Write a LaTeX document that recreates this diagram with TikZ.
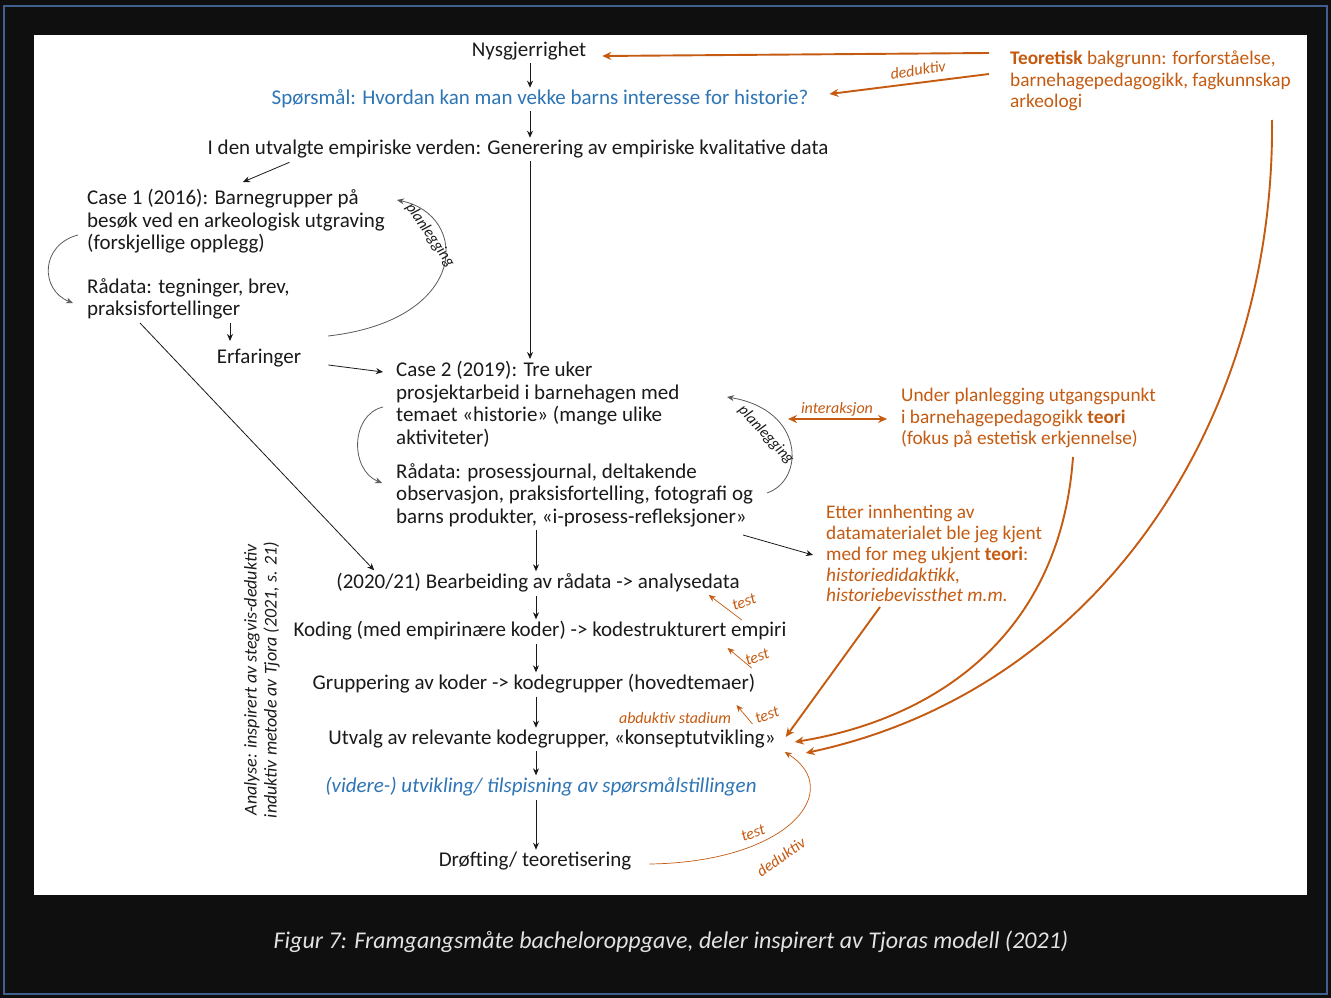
\documentclass[tikz,border=0pt]{standalone}
\usepackage{fontspec}
\setmainfont{Carlito}
\usetikzlibrary{arrows.meta,calc}
\definecolor{frame}{HTML}{0F0F0F}
\definecolor{rim}{HTML}{3F5F8F}
\definecolor{accent}{HTML}{C55A11}
\definecolor{qblue}{HTML}{2E75B6}
\definecolor{ink}{HTML}{1A1A1A}
\definecolor{loopgray}{HTML}{5A5A5A}
\definecolor{capgray}{HTML}{E2E2E2}
\newcommand\mainsize{\fontsize{21}{22.6}\selectfont}
\newcommand\sidesize{\fontsize{19.3}{21.5}\selectfont}
\newcommand\notesize{\fontsize{19.3}{20.8}\selectfont}
\newcommand\tagsize{\fontsize{16}{17}\selectfont}
\tikzset{
  lbl/.style={inner sep=0pt, font=\mainsize, text=ink},
  blk/.style={inner sep=0pt, font=\mainsize, text=ink, align=left, anchor=north west},
  org/.style={inner sep=0pt, font=\sidesize, text=accent, align=left, anchor=north west},
  tag/.style={inner sep=0pt, font=\tagsize\itshape, text=accent},
  looptag/.style={inner sep=0pt, font=\fontsize{15.5}{16}\selectfont\itshape, text=ink},
  flow/.style={draw=ink, line width=0.8pt, -{Stealth[length=7pt,width=6pt]}, shorten <=3pt, shorten >=2pt},
  thin/.style={draw=ink, line width=0.8pt, -{Stealth[length=7pt,width=6pt]}},
  loop/.style={draw=loopgray, line width=0.8pt, -{Stealth[length=7pt,width=6pt]}},
  feed/.style={draw=accent, line width=1.9pt, -{Stealth[length=9pt,width=8pt]}},
  probe/.style={draw=accent, line width=0.7pt, -{Stealth[length=7pt,width=6pt]}},
}
\begin{document}
\begin{tikzpicture}[x=1pt,y=-1pt]
% dark frame with white panel
\fill[frame] (0,0) rectangle (1331,998);
\draw[rim, line width=1.5pt] (4,6) rectangle (1327,994);
\fill[white] (34,35) rectangle (1307,895);
\useasboundingbox (0,0) rectangle (1331,998);

\coordinate (axis) at (530,0);
\coordinate (spine) at (536,0);

% upper part
\node[lbl] (nys) at (529,51) {Nysgjerrighet};
\node[lbl, text=qblue] (q) at (540,99) {Spørsmål: Hvordan kan man vekke barns interesse for historie?};
\node[lbl] (world) at (518,149) {I den utvalgte empiriske verden: Generering av empiriske kvalitative data};
\node[blk] (case1) at (87,189) {Case 1 (2016): Barnegrupper på\\besøk ved en arkeologisk utgraving\\(forskjellige opplegg)};
\node[blk] (raw1) at (87,278) {Rådata: tegninger, brev,\\praksisfortellinger};
\node[lbl] (erf) at (259,358) {Erfaringer};
\node[blk] (case2) at (396,361) {Case 2 (2019): Tre uker\\prosjektarbeid i barnehagen med\\temaet «historie» (mange ulike\\aktiviteter)};
\node[blk] (raw2) at (396,463) {Rådata: prosessjournal, deltakende\\observasjon, praksisfortelling, fotografi og\\barns produkter, «i-prosess-refleksjoner»};

% theory notes
\node[org] (teor) at (1010,51) {\textbf{Teoretisk} bakgrunn: forforståelse,\\barnehagepedagogikk, fagkunnskap\\arkeologi};
\node[org] (under) at (901,388) {Under planlegging utgangspunkt\\i barnehagepedagogikk \textbf{teori}\\(fokus på estetisk erkjennelse)};
\node[org, font=\notesize] (etter) at (826,505) {Etter innhenting av\\datamaterialet ble jeg kjent\\med for meg ukjent \textbf{teori}:\\\textit{historiedidaktikk,}\\\textit{historiebevissthet m.m.}};

% analysis steps
\node[lbl] (bear) at (538,583) {(2020/21) Bearbeiding av rådata -> analysedata};
\node[lbl] (kod) at (540,631) {Koding (med empirinære koder) -> kodestrukturert empiri};
\node[lbl] (grp) at (534,684) {Gruppering av koder -> kodegrupper (hovedtemaer)};
\node[lbl] (utv) at (552,739) {Utvalg av relevante kodegrupper, «konseptutvikling»};
\node[lbl, text=qblue, font=\mainsize\itshape] (vid) at (541,787) {(videre-) utvikling/ tilspisning av spørsmålstillingen};
\node[lbl] (dro) at (535,861) {Drøfting/ teoretisering};

\node[inner sep=0pt, rotate=90, align=center, text=ink, font=\fontsize{18}{20}\selectfont\itshape] (method) at (262,680) {Analyse: inspirert av stegvis-deduktiv\\induktiv metode av Tjora (2021, s. 21)};

% caption
\node[inner sep=0pt, text=capgray, font=\fontsize{24}{26}\selectfont\itshape] (cap) at (671,942) {Figur 7: Framgangsmåte bacheloroppgave, deler inspirert av Tjoras modell (2021)};

% main flow
\draw[flow] (nys.south -| axis) -- (q.north -| axis);
\draw[flow] (q.south -| axis) -- (world.north -| axis);
\draw[thin] ($(world.south west)+(82,4)$) -- ($(case1.north west)+(156,-7)$);
\draw[flow] (world.south -| axis) -- (case2.north -| axis);
\draw[loop] ($(case1.north west)+(-9,46)$) .. controls (40,245) and (40,290) .. ($(raw1.north west)+(-14,25)$);
\draw[thin] ($(raw1.north west)+(143,45)$) -- ($(raw1.north west)+(143,63)$);
\draw[loop] ($(erf.center)+(69,-22)$) .. controls (470,320) and (470,215) .. ($(case1.north west)+(310,11)$);
\draw[thin] ($(erf.east)+(27,7)$) -- ($(case2.north west)+(-13,11)$);
\draw[loop] ($(case2.north west)+(-13,46)$) .. controls (350,415) and (350,470) .. ($(raw2.north west)+(-14,20)$);
\draw[loop] ($(raw2.north west)+(371,30)$) .. controls (805,480) and (805,410) .. ($(case2.north west)+(331,36)$);
\draw[thin] ($(raw2.north west)+(347,72)$) -- ($(etter.north west)+(-13,50)$);
\draw[thin] ($(raw1.north west)+(53,45)$) -- ($(bear.north west)+(38,-3)$);
\draw[flow] (raw2.south -| spine) -- (bear.north -| spine);
\draw[flow] (bear.south -| spine) -- (kod.north -| spine);
\draw[flow] (kod.south -| spine) -- (grp.north -| spine);
\draw[flow] (grp.south -| spine) -- (utv.north -| spine);
\draw[flow] (utv.south -| spine) -- (vid.north -| spine);
\draw[flow] (vid.south -| spine) -- (dro.north -| spine);

\node[looptag, rotate=-55] (plan1) at (430,235) {planlegging};
\node[looptag, rotate=-47] (plan2) at (766,435) {planlegging};

% theory influences
\draw[feed] ($(teor.north west)+(-21,2)$) -- ($(nys.east)+(16,5)$);
\draw[feed] ($(teor.north west)+(-21,23)$) -- ($(q.east)+(21,-5)$);
\node[tag, rotate=8] (ded1) at (918,70) {deduktiv};
\draw[accent, line width=1.9pt, {Stealth[length=9pt,width=8pt]}-{Stealth[length=9pt,width=8pt]}] ($(under.north west)+(-113,31)$) -- ($(under.north west)+(-14,31)$);
\node[tag] (inter) at (837,409) {interaksjon};
\draw[feed] ($(etter.north west)+(54,102)$) -- ($(utv.east)+(10,-2)$);
\draw[feed] ($(under.north west)+(172,69)$) .. controls (1060,640) and (930,720) .. ($(utv.east)+(19,3)$);
\draw[feed] ($(teor.north west)+(262,69)$) .. controls (1275,420) and (1100,690) .. ($(utv.east)+(30,14)$);

% tests
\draw[probe] ($(bear.east)+(2,37)$) -- ($(bear.east)+(-31,12)$);
\node[tag, rotate=20] (t1) at (744,602) {test};
\draw[probe] ($(kod.east)+(-35,37)$) -- ($(kod.east)+(-59,17)$);
\node[tag, rotate=20] (t2) at (757,657) {test};
\draw[probe] ($(grp.east)+(-3,40)$) -- ($(grp.east)+(-19,21)$);
\node[tag, rotate=20] (t3) at (767,715) {test};
\node[tag] (abd) at (675,718) {abduktiv stadium};
\draw[probe] ($(dro.east)+(18,3)$) .. controls (790,862) and (845,790) .. ($(utv.east)+(9,13)$);
\node[tag, rotate=20] (t4) at (753,833) {test};
\node[tag, rotate=35] (ded2) at (781,857) {deduktiv};
\end{tikzpicture}
\end{document}
